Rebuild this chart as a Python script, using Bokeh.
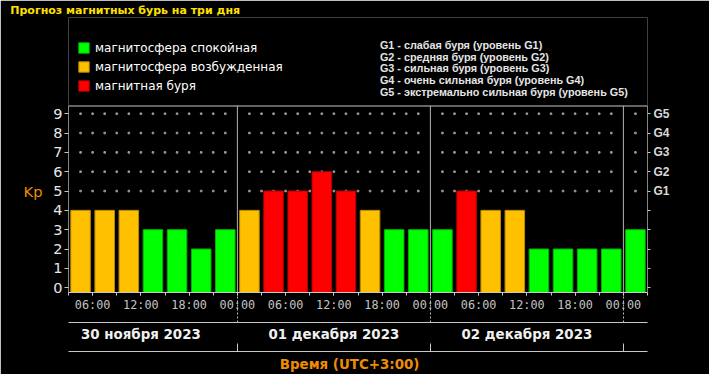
import numpy as np
from bokeh.plotting import figure
from bokeh.models import (ColumnDataSource, LinearAxis, FixedTicker, Range1d,
                          Legend, LegendItem)
from bokeh.core.properties import value
from bokeh.embed import file_html
from bokeh.resources import INLINE

# ---------------- data ----------------
title_text = "Прогноз магнитных бурь на три дня"
# start of each 3-hour slot, hours counted from 30.11.2023 00:00 (UTC+3)
slot_start = [3, 6, 9, 12, 15, 18, 21,
              24, 27, 30, 33, 36, 39, 42, 45,
              48, 51, 54, 57, 60, 63, 66, 69,
              72]
kp_values = [4, 4, 4, 3, 3, 2, 3,
             4, 5, 5, 6, 5, 4, 3, 3,
             3, 5, 4, 4, 2, 2, 2, 2,
             3]
legend_labels = ["магнитосфера спокойная", "магнитосфера возбужденная", "магнитная буря"]
fill_colors = ["#00ff00", "#ffc000", "#ff0000"]
edge_colors = ["#00b400", "#b88a00", "#b40000"]

g_levels = [5, 6, 7, 8, 9]
g_names = ["G1", "G2", "G3", "G4", "G5"]
g_descriptions = ["G1 - слабая буря (уровень G1)",
                  "G2 - средняя буря (уровень G2)",
                  "G3 - сильная буря (уровень G3)",
                  "G4 - очень сильная буря (уровень G4)",
                  "G5 - экстремально сильная буря (уровень G5)"]
kp_ticks = [0, 1, 2, 3, 4, 5, 6, 7, 8, 9]

time_ticks = [6, 12, 18, 24, 30, 36, 42, 48, 54, 60, 66, 72]
time_labels = ["06:00", "12:00", "18:00", "00:00",
               "06:00", "12:00", "18:00", "00:00",
               "06:00", "12:00", "18:00", "00:00"]
slot_ticks = [3, 6, 9, 12, 15, 18, 21, 24, 27, 30, 33, 36, 39, 42, 45, 48,
              51, 54, 57, 60, 63, 66, 69, 72, 75]
day_centers = [12, 36, 60]
day_labels = ["30 ноября 2023", "01 декабря 2023", "02 декабря 2023"]
day_bounds = [24, 48, 72]
x_title = "Время (UTC+3:00)"
y_title = "Kp"

# ---------------- layout ----------------
W, H = 709, 374
SX, SY = W / 725, H / 390          # reference px -> figure px


def RX(r):
    return r * SX


def RY(r):
    return r * SY


FL, FR = round(RX(70)), round(RX(662))    # frame left / right
FT, FB = 17, round(RY(304))               # frame top / bottom
BT = RY(110)                              # top of the bar box
X0, X1 = 3, 75
Y0, YB = -0.25, 9.4
PPU = (FB - BT) / (YB - Y0)
YT = Y0 + (FB - FT) / PPU


def px2x(px):
    return X0 + (px - FL) * (X1 - X0) / (FR - FL)


def px2y(py):
    return Y0 + (FB - py) / PPU


p = figure(width=W, height=H, x_range=Range1d(X0, X1), y_range=Range1d(Y0, YT),
           output_backend="svg", toolbar_location=None,
           x_axis_location=None, y_axis_location=None,
           min_border_left=FL, min_border_right=W - FR,
           min_border_top=FT, min_border_bottom=H - FB,
           background_fill_color="#000000", border_fill_color="#000000",
           outline_line_color=None)
p.grid.visible = False

p.title.text = title_text
p.title.text_font = "DejaVu Sans"
p.title.text_font_style = "bold"
p.title.text_font_size = "11px"
p.title.text_color = "#ffe000"
p.title.align = "left"
p.title.vertical_align = "middle"
p.title.standoff = 0
p.title.offset = RX(10) - FL

# dotted grid at G levels
dot_x, dot_y = [], []
for lvl in g_levels:
    for h in np.arange(X0 + 1.5, X1, 1.5):
        if h not in day_bounds:
            dot_x.append(h)
            dot_y.append(lvl)
p.scatter(dot_x, dot_y, marker="square", size=1.6, color="#9a9a9a")

# bar box and day separators
p.quad(left=[X0], right=[X1], bottom=[Y0], top=[YB], fill_color=None,
       line_color="#c8c8c8", line_width=1)
p.segment(x0=day_bounds, y0=[Y0] * 3, x1=day_bounds, y1=[YB] * 3,
          line_color="#b4b4b4", line_width=1)

# bars
cls = [0 if v <= 3 else (1 if v == 4 else 2) for v in kp_values]
items = []
for k in range(3):
    xs = [s + 1.5 for s, c in zip(slot_start, cls) if c == k]
    ts = [v for v, c in zip(kp_values, cls) if c == k]
    src = ColumnDataSource(dict(x=xs, top=ts))
    r = p.vbar(x="x", top="top", bottom=Y0, width=2.43, source=src,
               fill_color=fill_colors[k], line_color=edge_colors[k], line_width=1)
    items.append(LegendItem(label=legend_labels[k], renderers=[r]))

leg_top = RY(50) - 9.5
legend = Legend(items=items, location=(round(RX(79) - FL), round(FB - (leg_top + 57))),
                orientation="vertical",
                padding=0, margin=0, spacing=0, label_standoff=5,
                glyph_width=13, glyph_height=13, label_height=19,
                label_text_font="DejaVu Sans", label_text_font_size="12px",
                label_text_color="#ffffff", label_text_baseline="middle",
                border_line_color=None, background_fill_alpha=0)
p.add_layout(legend)

# G-level descriptions
p.text(x=[px2x(RX(388))] * 5, y=[px2y(RY(46.5 + 12.2 * i)) for i in range(5)],
       text=g_descriptions,
       text_font=value("Liberation Sans"), text_font_style="bold", text_font_size="10.8px",
       text_color="#e4e4e4", text_baseline="middle", text_align="left")

# left Kp axis
ax_l = LinearAxis(ticker=FixedTicker(ticks=kp_ticks),
                  major_tick_out=4, major_tick_in=0, minor_tick_out=0, minor_tick_in=0,
                  major_label_standoff=2, major_label_text_font="DejaVu Sans",
                  major_label_text_font_size="14.5px", major_label_text_color="#e6e6e6",
                  axis_line_color=None, major_tick_line_color="#c8c8c8")
p.add_layout(ax_l, "left")
ax_k = LinearAxis(ticker=FixedTicker(ticks=[5]), major_label_overrides={5: y_title},
                  major_tick_out=0, major_tick_in=0, minor_tick_out=0, minor_tick_in=0,
                  major_tick_line_color=None, axis_line_color=None,
                  major_label_standoff=8, major_label_text_font="DejaVu Sans",
                  major_label_text_font_size="14.7px", major_label_text_color="#f08c00")
p.add_layout(ax_k, "left")

# right G axis
g_over = {t: "" for t in kp_ticks}
g_over.update(dict(zip(g_levels, g_names)))
ax_r = LinearAxis(ticker=FixedTicker(ticks=kp_ticks), major_label_overrides=g_over,
                  major_tick_out=3, major_tick_in=0, minor_tick_out=0, minor_tick_in=0,
                  major_label_standoff=3, major_label_text_font="Liberation Sans",
                  major_label_text_font_style="bold",
                  major_label_text_font_size="12px", major_label_text_color="#d8d8d8",
                  axis_line_color=None, major_tick_line_color="#c8c8c8")
p.add_layout(ax_r, "right")

# bottom time axis
ax_t = LinearAxis(ticker=FixedTicker(ticks=time_ticks, minor_ticks=slot_ticks),
                  major_label_overrides=dict(zip(time_ticks, time_labels)),
                  major_tick_out=3, major_tick_in=0, minor_tick_out=3, minor_tick_in=0,
                  major_label_standoff=2, major_label_text_font="DejaVu Sans Mono",
                  major_label_text_font_size="11.8px", major_label_text_color="#c4c4c4",
                  axis_line_color="#c8c8c8", major_tick_line_color="#c8c8c8",
                  minor_tick_line_color="#c8c8c8",
                  axis_label=" ", axis_label_text_font_size="2px", axis_label_standoff=3)
p.add_layout(ax_t, "below")

# date axis
ax_d = LinearAxis(ticker=FixedTicker(ticks=day_centers, minor_ticks=day_bounds),
                  major_label_overrides=dict(zip(day_centers, day_labels)),
                  major_tick_out=0, major_tick_in=0, major_tick_line_color=None,
                  minor_tick_out=0, minor_tick_in=27, minor_tick_line_dash="2 2",
                  minor_tick_line_color="#bbbbbb",
                  major_label_standoff=4, major_label_text_font="DejaVu Sans",
                  major_label_text_font_style="bold",
                  major_label_text_font_size="13.4px", major_label_text_color="#f0f0f0",
                  axis_line_color="#c8c8c8",
                  axis_label=" ", axis_label_text_font_size="2px", axis_label_standoff=2)
p.add_layout(ax_d, "below")

# bottom line with day ticks
ax_b = LinearAxis(ticker=FixedTicker(ticks=day_bounds),
                  major_label_overrides={b: "" for b in day_bounds},
                  major_label_text_font_size="1px", major_label_standoff=0,
                  major_tick_out=0, major_tick_in=8, minor_tick_out=0, minor_tick_in=0,
                  major_tick_line_color="#c8c8c8", axis_line_color="#c8c8c8")
p.add_layout(ax_b, "below")

# time title
t_pos = px2x(RX(357))
ax_v = LinearAxis(ticker=FixedTicker(ticks=[t_pos]), major_label_overrides={t_pos: x_title},
                  major_tick_out=0, major_tick_in=0, minor_tick_out=0, minor_tick_in=0,
                  major_tick_line_color=None, axis_line_color=None,
                  major_label_standoff=5, major_label_text_font="DejaVu Sans",
                  major_label_text_font_style="bold",
                  major_label_text_font_size="13.4px", major_label_text_color="#f08c00")
p.add_layout(ax_v, "below")

html = file_html(p, INLINE, title="Kp")
html = html.replace("<body>", '<body style="background-color:#000000;">', 1)
open("out.html", "w").write(html)
